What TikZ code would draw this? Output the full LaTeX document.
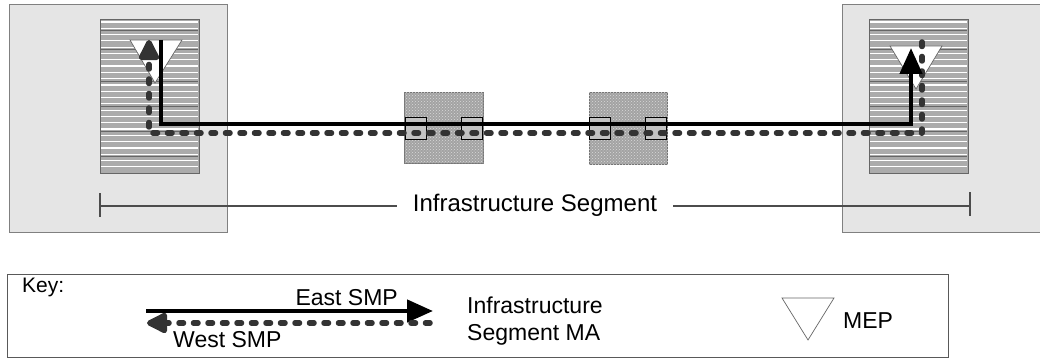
\documentclass[tikz,border=0pt]{standalone}
\usepackage{fontspec}
\setmainfont{Liberation Sans}
\usetikzlibrary{arrows.meta,patterns}
\tikzset{
  outerbox/.style={draw=black!50,fill=black!10,line width=1pt},
  hatchbox/.style={draw=black!60,fill=black!33,line width=0.8pt},
  midbox/.style={draw=black!55,fill=black!36,line width=0.8pt},
  portbox/.style={draw=black,fill=black!24,line width=1.1pt},
  mep/.style={draw=black!60,fill=white,line width=0.7pt},
  eastsmp/.style={draw=black,line width=4.6pt,line join=miter,-{Triangle[length=26pt,width=22pt]}},
  westsmp/.style={draw=black!80,line width=5.5pt,dash pattern=on 4.5pt off 10pt,line cap=round,line join=round,-{Triangle[length=24pt,width=22pt,round=false]}},
  segline/.style={draw=black!70,line width=1.3pt},
  lbl/.style={inner sep=0pt,font=\fontsize{23}{27}\selectfont},
  biglbl/.style={inner sep=0pt,inner xsep=16pt,font=\fontsize{24}{28}\selectfont},
  keybox/.style={draw=black!65,fill=white,line width=1.3pt}
}
\begin{document}
\begin{tikzpicture}[x=1pt,y=-1pt]
\useasboundingbox[fill=white] (0,0) rectangle (1040,358);
% outer boxes
\node[outerbox,anchor=north west,minimum width=218pt,minimum height=228pt,inner sep=0pt] (lout) at (9,4) {};
\node[outerbox,anchor=north west,minimum width=200pt,minimum height=228pt,inner sep=0pt] (rout) at (842,4) {};
% hatched inner boxes
\node[hatchbox,anchor=north west,minimum width=99pt,minimum height=154pt,inner sep=0pt] (lin) at (100,19) {};
\node[hatchbox,anchor=north west,minimum width=99pt,minimum height=154pt,inner sep=0pt] (rin) at (869,19) {};
\foreach \k in {0,...,23}{
  \draw[white,line width=1.2pt] (101,{22+\k*6.3}) -- (198,{22+\k*6.3});
  \draw[white,line width=1.2pt] (870,{22+\k*6.3}) -- (967,{22+\k*6.3});
}
\foreach \k in {1,4,9,13,17,21}{
  \draw[black!60,line width=0.8pt] (101,{24.5+\k*6.3}) -- (198,{24.5+\k*6.3});
  \draw[black!60,line width=0.8pt] (870,{24.5+\k*6.3}) -- (967,{24.5+\k*6.3});
}
\draw[draw=black!60,line width=0.8pt] (lin.north west) rectangle (lin.south east);
\draw[draw=black!60,line width=0.8pt] (rin.north west) rectangle (rin.south east);
% middle boxes
\node[midbox,anchor=north west,minimum width=79pt,minimum height=71pt,inner sep=0pt] (m1) at (404,92) {};
\node[midbox,anchor=north west,minimum width=78pt,minimum height=72pt,inner sep=0pt] (m2) at (589,92) {};
\fill[pattern=crosshatch dots,pattern color=black!15] (m1.north west) rectangle (m1.south east);
\fill[pattern=crosshatch dots,pattern color=black!15] (m2.north west) rectangle (m2.south east);
% port squares
\node[portbox,anchor=north west,minimum width=21pt,minimum height=22pt,inner sep=0pt] (p1) at (405,117) {};
\node[portbox,anchor=north west,minimum width=21pt,minimum height=22pt,inner sep=0pt] (p2) at (461,117) {};
\node[portbox,anchor=north west,minimum width=21pt,minimum height=22pt,inner sep=0pt] (p3) at (589,117) {};
\node[portbox,anchor=north west,minimum width=21pt,minimum height=22pt,inner sep=0pt] (p4) at (645,117) {};
% MEP triangles
\coordinate (tl1) at (130,40); \coordinate (tl2) at (182,40); \coordinate (tl3) at (155,83);
\coordinate (tr1) at (890,46); \coordinate (tr2) at (942,46); \coordinate (tr3) at (916,89);
\draw[mep] (tl1) -- (tl2) -- (tl3) -- cycle;
\draw[mep] (tr1) -- (tr2) -- (tr3) -- cycle;
% SMP paths
\coordinate (e0) at (161,40); \coordinate (e1) at (161,124);
\coordinate (e2) at (911,124); \coordinate (e3) at (911,48);
\coordinate (w0) at (922,42); \coordinate (w1) at (922,133);
\coordinate (w2) at (149,133); \coordinate (w3) at (149,40);
\draw[westsmp] (w0) -- (w1) -- (w2) -- (w3);
\draw[eastsmp] (e0) -- (e1) -- (e2) -- (e3);
% infrastructure segment
\node[biglbl,anchor=base] (seg) at (535,211) {Infrastructure Segment};
\coordinate (sl) at (100,206); \coordinate (sr) at (970,206);
\coordinate (slt) at (100,193); \coordinate (slb) at (100,217);
\coordinate (srt) at (970,192); \coordinate (srb) at (970,216);
\draw[segline] (sl) -- (seg.west |- sl);
\draw[segline] (seg.east |- sr) -- (sr);
\draw[segline] (slt) -- (slb);
\draw[segline] (srt) -- (srb);
% key
\node[keybox,anchor=north west,minimum width=941pt,minimum height=83pt,inner sep=0pt] (key) at (7,274) {};
\node[lbl,anchor=base west,font=\fontsize{21}{25}\selectfont] (keyt) at (22,292) {Key:};
\coordinate (ka) at (146,311); \coordinate (kb) at (433,311);
\coordinate (kc) at (430,323); \coordinate (kd) at (147,323);
\draw[eastsmp] (ka) -- (kb);
\draw[westsmp] (kc) -- (kd);
\node[lbl,anchor=base east] (east) at (398,305) {East SMP};
\node[lbl,anchor=base west] (west) at (173,347) {West SMP};
\node[lbl,anchor=base west] (ma1) at (467,313) {Infrastructure};
\node[lbl,anchor=base west] (ma2) at (467,340) {Segment MA};
\coordinate (k1) at (782,298); \coordinate (k2) at (834,298); \coordinate (k3) at (808,340);
\draw[mep] (k1) -- (k2) -- (k3) -- cycle;
\node[lbl,anchor=base west] (mep) at (843,328) {MEP};
\end{tikzpicture}
\end{document}
